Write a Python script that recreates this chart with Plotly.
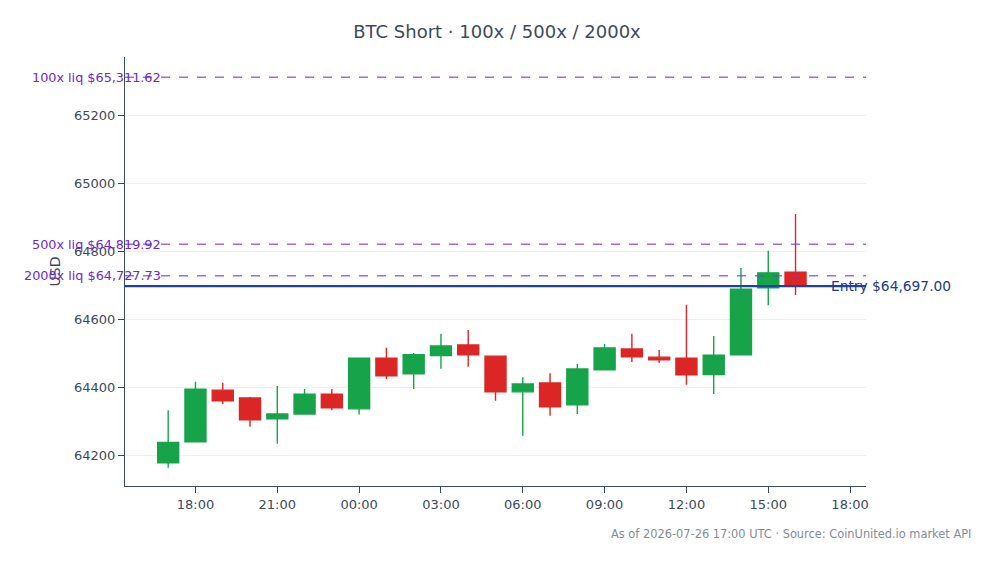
import plotly.graph_objects as go
import pandas as pd

times = pd.date_range("2026-07-25 17:00", periods=24, freq="h")
opens = [64177, 64239, 64391, 64368, 64307, 64321, 64379, 64336, 64485, 64439, 64493, 64524,
         64491, 64386, 64412, 64348, 64451, 64512, 64488, 64485, 64437, 64495, 64692, 64738]
highs = [64332, 64416, 64413, 64371, 64403, 64394, 64394, 64485, 64516, 64500, 64557, 64568,
         64491, 64429, 64441, 64468, 64527, 64557, 64509, 64642, 64550, 64750, 64801, 64909]
lows = [64163, 64237, 64350, 64283, 64233, 64319, 64332, 64319, 64424, 64394, 64454, 64460,
        64360, 64257, 64316, 64321, 64449, 64474, 64471, 64407, 64380, 64493, 64641, 64671]
closes = [64237, 64394, 64360, 64304, 64321, 64379, 64339, 64485, 64433, 64495, 64521, 64495,
          64386, 64409, 64342, 64453, 64515, 64489, 64480, 64436, 64494, 64688, 64736, 64697]

entry_price = 64697.00
liq_labels = ["100x", "500x", "2000x"]
liq_prices = [65311.62, 64819.92, 64727.73]

x_range = ["2026-07-25 15:25", "2026-07-26 18:35"]
y_range = [64109, 65371]

FONT = "DejaVu Sans"
GREEN = "#16a34a"
RED = "#dc2626"

fig = go.Figure()
fig.add_trace(go.Candlestick(
    x=times, open=opens, high=highs, low=lows, close=closes,
    increasing=dict(line=dict(color=GREEN, width=1.4), fillcolor=GREEN),
    decreasing=dict(line=dict(color=RED, width=1.4), fillcolor=RED),
    showlegend=False, name="BTC",
))

for lab, p in zip(liq_labels, liq_prices):
    fig.add_shape(type="line", xref="paper", x0=0, x1=1, yref="y", y0=p, y1=p,
                  line=dict(color="rgba(124,58,237,0.75)", width=1.5, dash="dash"))
    fig.add_annotation(xref="paper", x=38 / 741, xanchor="right", yref="y", y=p,
                       yanchor="middle", text=f"{lab} liq ${p:,.2f}", showarrow=False,
                       font=dict(family=FONT, size=12.8, color="#6d28d9"))

fig.add_shape(type="line", xref="paper", x0=0, x1=1, yref="y", y0=entry_price, y1=entry_price,
              line=dict(color="#1e40af", width=2.2))
fig.add_annotation(xref="paper", x=1 - 37 / 741, xanchor="left", yref="y", y=entry_price,
                   yanchor="middle", text=f"Entry ${entry_price:,.2f}", showarrow=False,
                   font=dict(family=FONT, size=13.8, color="#1e3a8a"))

fig.add_annotation(xref="paper", yref="paper", x=(973 - 125) / 741, y=(486 - 534) / 429,
                   xanchor="right", yanchor="middle", showarrow=False,
                   text="As of 2026-07-26 17:00 UTC · Source: CoinUnited.io market API",
                   font=dict(family=FONT, size=11.4, color="#838c99"))

fig.update_layout(
    width=994, height=564,
    margin=dict(l=125, r=128, t=57, b=78),
    paper_bgcolor="white", plot_bgcolor="white",
    boxgap=0.23, boxgroupgap=0,
    font=dict(family=FONT, size=13, color="#3d4a5c"),
    title=dict(text="BTC Short · 100x / 500x / 2000x", x=0.5, xanchor="center",
               y=1 - 32 / 564, yanchor="middle",
               font=dict(family=FONT, size=18, color="#3d4a5c")),
    xaxis=dict(range=x_range, type="date", rangeslider=dict(visible=False),
               showgrid=False, showline=True, linecolor="#3d4a5c", linewidth=1,
               ticks="outside", ticklen=6, tickcolor="#3d4a5c", tickformat="%H:%M",
               dtick=3 * 3600 * 1000, tick0="2026-07-25 18:00",
               tickfont=dict(family=FONT, size=13, color="#3d4a5c")),
    yaxis=dict(range=y_range, showgrid=True, gridcolor="#eceff3", showline=True,
               linecolor="#3d4a5c", linewidth=1, ticks="outside", ticklen=6,
               tickcolor="#3d4a5c", dtick=200, tickformat="d", zeroline=False,
               title=dict(text="USD", font=dict(family=FONT, size=14, color="#3d4a5c"), standoff=10),
               tickfont=dict(family=FONT, size=13, color="#3d4a5c")),
)

fig.write_html("out.html")
